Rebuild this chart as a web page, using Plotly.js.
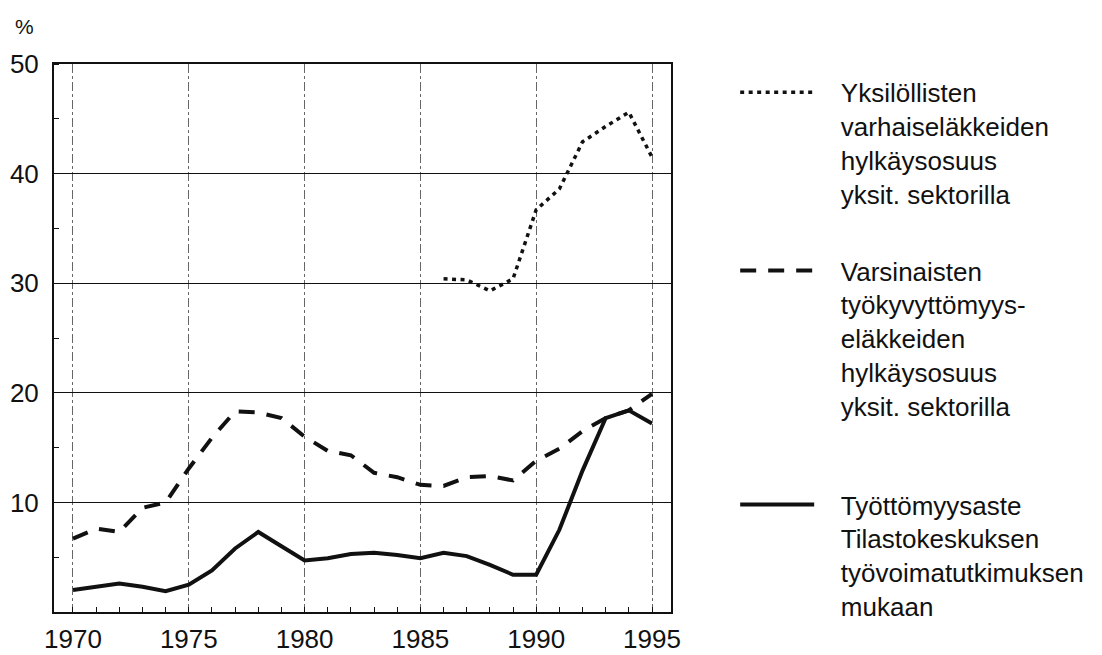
<!DOCTYPE html>
<html>
<head>
<meta charset="utf-8">
<script src="https://cdn.plot.ly/plotly-3.0.1.min.js"></script>
<style>
html,body{margin:0;padding:0;background:#fff;}
#chart{width:1102px;height:655px;}
</style>
</head>
<body>
<div id="chart"></div>
<script>
// ---- data ----
const years = [1970,1971,1972,1973,1974,1975,1976,1977,1978,1979,1980,1981,1982,1983,1984,1985,1986,1987,1988,1989,1990,1991,1992,1993,1994,1995];
const rejectIndividualYears = [1986,1987,1988,1989,1990,1991,1992,1993,1994,1995];
const rejectIndividual = [30.4,30.3,29.3,30.4,36.7,38.6,42.9,44.3,45.6,41.5];
const rejectDisability = [6.7,7.6,7.3,9.5,10.0,13.1,15.9,18.3,18.2,17.7,16.0,14.7,14.3,12.7,12.3,11.6,11.5,12.3,12.4,12.0,13.8,14.9,16.5,17.7,18.4,19.9];
const unemployment = [2.0,2.3,2.6,2.3,1.9,2.5,3.8,5.8,7.3,6.0,4.7,4.9,5.3,5.4,5.2,4.9,5.4,5.1,4.3,3.4,3.4,7.5,12.9,17.7,18.4,17.2];
const xTickVals = [1970,1975,1980,1985,1990,1995];
const yTickVals = [10,20,30,40,50];
const yUnit = '%';
const legendIndividual = ['Yksilöllisten','varhaiseläkkeiden','hylkäysosuus','yksit. sektorilla'];
const legendDisability = ['Varsinaisten','työkyvyttömyys-','eläkkeiden','hylkäysosuus','yksit. sektorilla'];
const legendUnemployment = ['Työttömyysaste','Tilastokeskuksen','työvoimatutkimuksen','mukaan'];

const pad = '\u00a0\u00a0\u00a0';
const mkName = lines => lines.map(l => pad + l).join('<br>');
const FONT = 'Liberation Sans, Arial, sans-serif';

const traces = [
  {x: rejectIndividualYears, y: rejectIndividual, type:'scatter', mode:'lines',
   name: mkName(legendIndividual), legend:'legend',
   line:{color:'#111', width:3.5, dash:'4px,4.5px'}},
  {x: years, y: rejectDisability, type:'scatter', mode:'lines',
   name: mkName(legendDisability), legend:'legend2',
   line:{color:'#111', width:4, dash:'16px,12px'}},
  {x: years, y: unemployment, type:'scatter', mode:'lines',
   name: mkName(legendUnemployment), legend:'legend3',
   line:{color:'#111', width:4}}
];

const legBase = {xanchor:'left', yanchor:'top', valign:'top', itemwidth:74,
  font:{family:FONT, size:26, color:'#111'}, bgcolor:'rgba(0,0,0,0)', borderwidth:0,
  itemclick:false, itemdoubleclick:false};

const layout = {
  width:1102, height:655,
  margin:{l:54, r:431, t:64, b:43},
  paper_bgcolor:'#fff', plot_bgcolor:'#fff',
  font:{family:FONT, size:26, color:'#111'},
  showlegend:true,
  legend: Object.assign({}, legBase, {x:1.104, y:0.991}),
  legend2: Object.assign({}, legBase, {x:1.104, y:0.666}),
  legend3: Object.assign({}, legBase, {x:1.104, y:0.239}),
  xaxis:{
    range:[1969.18,1995.82], tickvals:xTickVals, ticks:'', ticklabelstandoff:3,
    showgrid:true, gridcolor:'#666', gridwidth:1, griddash:'dashdot',
    showline:true, linecolor:'#111', linewidth:2, mirror:true, zeroline:false,
    tickfont:{family:FONT, size:26, color:'#111'},
    minor:{dtick:1, ticks:'inside', ticklen:5, tickcolor:'#111', tickwidth:1, showgrid:false}
  },
  yaxis:{
    range:[0,50], tickvals:yTickVals, ticks:'', ticklabelstandoff:8,
    showgrid:true, gridcolor:'#111', gridwidth:1.3,
    showline:true, linecolor:'#111', linewidth:2, mirror:true, zeroline:false,
    tickfont:{family:FONT, size:26, color:'#111'},
    minor:{dtick:5, ticks:'inside', ticklen:5, tickcolor:'#111', tickwidth:1, showgrid:false}
  },
  annotations:[
    {text:yUnit, xref:'paper', yref:'paper', x:-0.0486, y:1.069, xanchor:'center', yanchor:'middle',
     showarrow:false, font:{family:FONT, size:21, color:'#111'}}
  ]
};

Plotly.newPlot('chart', traces, layout, {displayModeBar:false, staticPlot:true});
</script>
</body>
</html>
